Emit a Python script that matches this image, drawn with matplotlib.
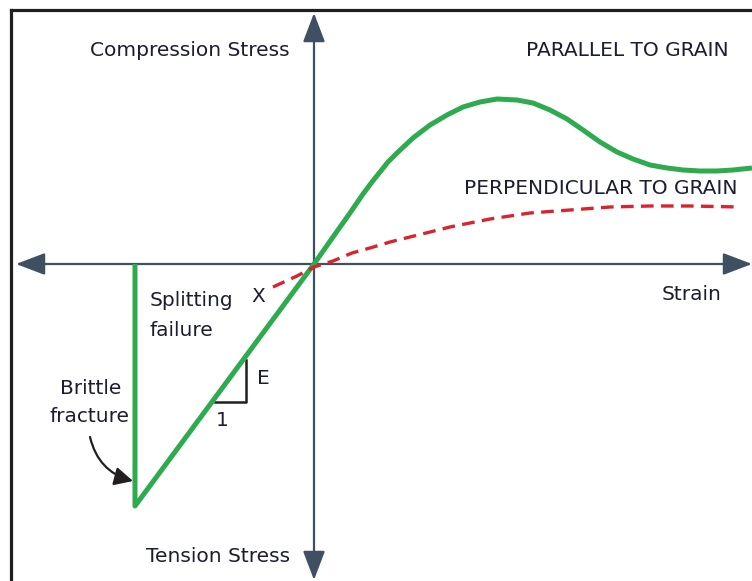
import matplotlib.pyplot as plt
from matplotlib.lines import Line2D

# schematic stress-strain curves for wood (arbitrary units, origin at axis cross)
par_strain = [-1.79, -1.79, 0.0, 0.19, 0.36, 0.49, 0.58, 0.66, 0.74, 0.83, 0.99, 1.16,
              1.33, 1.49, 1.66, 1.83, 2.03, 2.19, 2.36, 2.53, 2.69, 2.86, 3.03, 3.19,
              3.36, 3.53, 3.69, 3.86, 4.03, 4.19, 4.38]
par_stress = [0.0, -2.42, 0.0, 0.27, 0.51, 0.70, 0.82, 0.92, 1.02, 1.11, 1.26, 1.39,
              1.49, 1.57, 1.62, 1.65, 1.64, 1.61, 1.54, 1.45, 1.34, 1.22, 1.12, 1.05,
              0.99, 0.96, 0.94, 0.93, 0.93, 0.94, 0.96]

perp_strain = [-0.41, -0.17, 0.0, 0.19, 0.38, 0.56, 0.76, 0.96, 1.16, 1.36, 1.76, 2.16,
               2.56, 2.96, 3.36, 3.76, 4.26]
perp_stress = [-0.23, -0.12, -0.03, 0.03, 0.11, 0.16, 0.22, 0.27, 0.32, 0.37, 0.45, 0.51,
               0.54, 0.57, 0.58, 0.58, 0.57]

W, H = 752, 581
fig = plt.figure(figsize=(W / 100, H / 100), dpi=100)
ax = fig.add_axes([0, 0, 1, 1])
ax.set_xlim(-3.14, 4.38)
ax.set_ylim(-3.17, 2.64)
ax.axis('off')

family = ['DejaVu Sans']
tcol = '#1c1d30'
axcol = '#3e5062'


def px(x, y):
    return (x / W, 1 - y / H)


# frame (right and bottom edges fall outside the picture)
fig.add_artist(Line2D([11 / W, 11 / W], [0, 1 - 10 / H], color='#231f20', lw=2.3))
fig.add_artist(Line2D([11 / W, 1], [1 - 10 / H, 1 - 10 / H], color='#231f20', lw=2.3))

# axes with arrow heads
arr = dict(arrowstyle='<|-|>,head_length=1.0,head_width=0.38', color=axcol, lw=1.6,
           shrinkA=0, shrinkB=0, mutation_scale=18)
ax.annotate('', xy=px(752, 264), xytext=px(16, 264), xycoords='axes fraction',
            textcoords='axes fraction', arrowprops=arr)
ax.annotate('', xy=px(314, 13), xytext=px(314, 580), xycoords='axes fraction',
            textcoords='axes fraction', arrowprops=arr)

# curves
ax.plot(par_strain, par_stress, color='#2eaa4f', lw=3.6, solid_joinstyle='round',
        solid_capstyle='butt', zorder=3)
ax.plot(perp_strain, perp_stress, color='#d9232e', lw=2.4, dashes=(3.8, 2.2), zorder=3)

# slope triangle
ax.plot([px(215, 0)[0], px(246, 0)[0], px(246, 0)[0]],
        [px(0, 402)[1], px(0, 402)[1], px(0, 360)[1]],
        color='#231f20', lw=1.8, transform=ax.transAxes)

fs = 14.5
kw = dict(transform=ax.transAxes, color=tcol, family=family, fontsize=fs)
ax.text(*px(190, 51), 'Compression Stress', ha='center', va='center', **kw)
ax.text(*px(627, 51), 'PARALLEL TO GRAIN', ha='center', va='center', **kw)
ax.text(*px(601, 188), 'PERPENDICULAR TO GRAIN', ha='center', va='center', **kw)
ax.text(*px(692, 295), 'Strain', ha='center', va='center', **kw)
ax.text(*px(218, 557), 'Tension Stress', ha='center', va='center', **kw)
ax.text(*px(150, 300), 'Splitting', ha='left', va='center', **kw)
ax.text(*px(150, 331), 'failure', ha='left', va='center', **kw)
ax.text(*px(91, 389), 'Brittle', ha='center', va='center', **kw)
ax.text(*px(90, 417), 'fracture', ha='center', va='center', **kw)
ax.text(*px(263, 378), 'E', ha='center', va='center', **kw)
ax.text(*px(222, 420), '1', ha='center', va='center', **kw)
ax.text(*px(258, 296), 'X', ha='center', va='center', **kw)

ax.annotate('', xy=px(133, 481), xytext=px(90, 437), xycoords='axes fraction',
            textcoords='axes fraction',
            arrowprops=dict(arrowstyle='-|>,head_length=0.7,head_width=0.35',
                            color='#231f20', lw=1.6, shrinkA=0, shrinkB=0,
                            mutation_scale=16, connectionstyle='arc3,rad=0.3'))

fig.savefig('out.png', dpi=100)
